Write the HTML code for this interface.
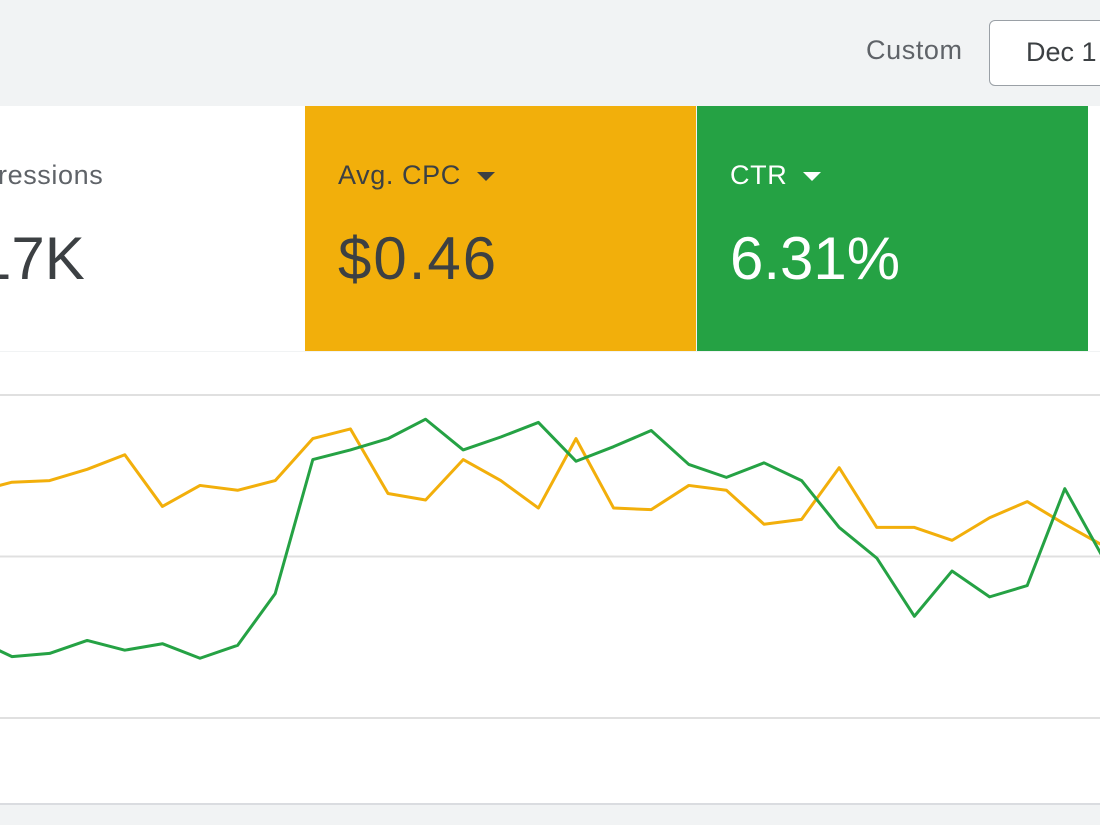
<!DOCTYPE html>
<html><head><meta charset="utf-8"><style>
body{margin:0;width:1100px;height:825px;overflow:hidden;background:#f1f3f4;font-family:"Liberation Sans",sans-serif;position:relative}
.abs{position:absolute}
.tri{display:inline-block;width:0;height:0;border-left:9px solid transparent;border-right:9px solid transparent;border-top:9px solid currentColor;margin-left:16px;vertical-align:middle}
</style></head><body>
<div class="abs" style="left:866px;top:35px;font-size:27px;letter-spacing:0.6px;color:#5f6368">Custom</div>
<div class="abs" style="left:989px;top:20px;width:140px;height:66px;border:1px solid #9aa0a6;border-radius:6px;background:#fff;box-sizing:border-box;font-size:27px;color:#3c4043;padding:16px 0 0 36px">Dec 1</div>
<div class="abs" style="left:0;top:106px;width:305px;height:245px;background:#fff;color:#5f6368">
<div class="abs" style="left:-2px;top:54px;font-size:27px;letter-spacing:0.6px">ressions</div>
<div class="abs" style="left:-22px;top:118px;font-size:60px;color:#3c4043">17K</div></div>
<div class="abs" style="left:305px;top:106px;width:391px;height:245px;background:#f2af0b;color:#3c4043">
<div class="abs" style="left:33px;top:54px;font-size:27px;letter-spacing:0.6px">Avg. CPC<span class="tri"></span></div>
<div class="abs" style="left:33px;top:118px;font-size:60px;letter-spacing:2px">$0.46</div></div>
<div class="abs" style="left:697px;top:106px;width:391px;height:245px;background:#25a244;color:#fff">
<div class="abs" style="left:33px;top:54px;font-size:27px;letter-spacing:0.6px">CTR<span class="tri"></span></div>
<div class="abs" style="left:33px;top:118px;font-size:60px">6.31%</div></div>
<div class="abs" style="left:1088px;top:106px;width:12px;height:245px;background:#fff"></div>
<div class="abs" style="left:0;top:352px;width:1100px;height:451px;background:#fff;border-bottom:2px solid #dadce0"></div>
<svg class="abs" id="chart" style="left:0;top:0" width="1100" height="825"></svg>
<script>
const cpcValues=[14.0,14.6,14.7,15.4,16.3,13.1,14.4,14.1,14.7,17.3,17.9,13.9,13.5,16.0,14.7,13.0,17.3,13.0,12.9,14.4,14.1,12.0,12.3,15.5,11.8,11.8,11.0,12.4,13.4,12.0,10.7];
const ctrValues=[4.9,3.8,4.0,4.8,4.2,4.6,3.7,4.5,7.7,16.0,16.6,17.3,18.5,16.6,17.4,18.3,15.9,16.8,17.8,15.7,14.9,15.8,14.7,11.8,9.9,6.3,9.1,7.5,8.2,14.2,10.0];
const gridTicks=[0,10,20];
const svg=document.getElementById('chart');const NS='http://www.w3.org/2000/svg';
const x=i=>-25.6+i*37.6;const y=v=>718-v*16.15;
gridTicks.forEach(t=>{const l=document.createElementNS(NS,'line');


l.setAttribute('x1',0);l.setAttribute('x2',1100);l.setAttribute('y1',y(t));l.setAttribute('y2',y(t));l.setAttribute('stroke','#e0e0e0');l.setAttribute('stroke-width',2);svg.appendChild(l);});
function line(vals,color,name){const p=document.createElementNS(NS,'polyline');


p.setAttribute('points',vals.map((v,i)=>x(i)+','+y(v)).join(' '));p.setAttribute('fill','none');p.setAttribute('stroke',color);p.setAttribute('stroke-width',3);p.setAttribute('stroke-linejoin','round');svg.appendChild(p);}
line(cpcValues,'#f2af0b','avg-cpc-line');
line(ctrValues,'#25a244','ctr-line');
</script>
</body></html>
